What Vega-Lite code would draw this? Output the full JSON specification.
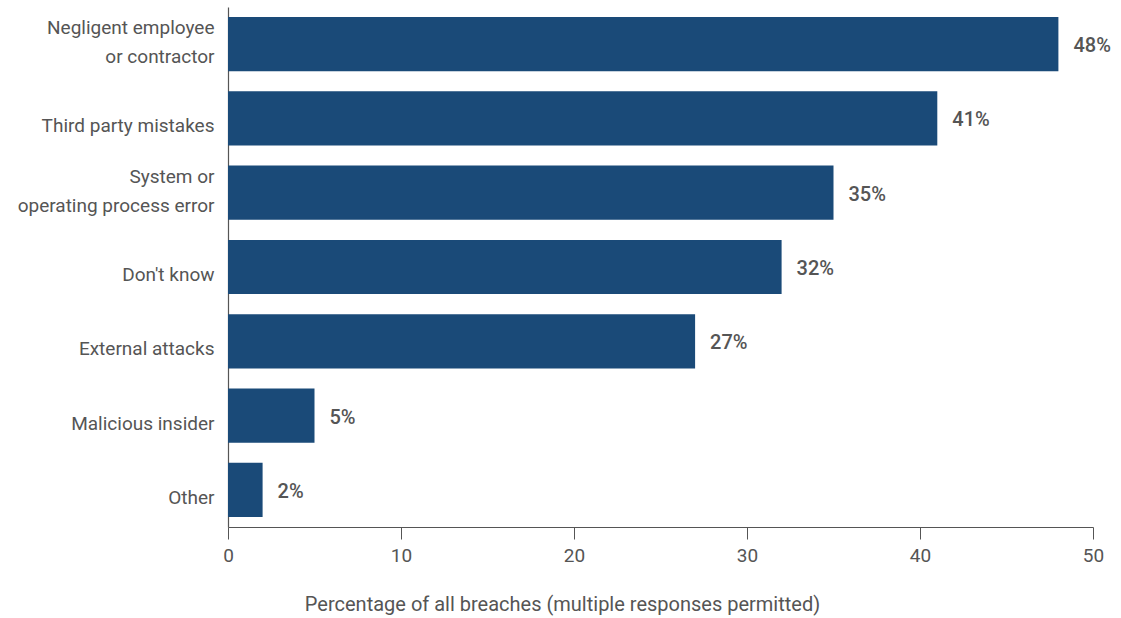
{
  "$schema": "https://vega.github.io/schema/vega-lite/v6.json",
  "width": 865,
  "height": 520,
  "autosize": {"type": "none"},
  "padding": {"left": 228, "top": 7, "right": 28, "bottom": 91},
  "background": "white",
  "config": {
    "view": {"stroke": null},
    "font": "Roboto",
    "axis": {"grid": false, "domainColor": "#555555", "tickColor": "#555555", "labelColor": "#555555", "titleColor": "#555555", "labelFont": "Roboto", "titleFont": "Roboto"}
  },
  "data": {
    "values": [
      {"cause": "Negligent employee\nor contractor", "pct": 48},
      {"cause": "Third party mistakes", "pct": 41},
      {"cause": "System or\noperating process error", "pct": 35},
      {"cause": "Don't know", "pct": 32},
      {"cause": "External attacks", "pct": 27},
      {"cause": "Malicious insider", "pct": 5},
      {"cause": "Other", "pct": 2}
    ]
  },
  "encoding": {
    "y": {
      "field": "cause", "type": "nominal", "sort": null,
      "scale": {"paddingInner": 0.27, "paddingOuter": 0.135},
      "axis": {"title": null, "ticks": false, "labelPadding": 14, "labelFontSize": 19, "labelLineHeight": 29, "labelExpr": "split(datum.label, '\\n')", "labelLimit": 300, "domainWidth": 1.2,
        "labelOffset": {"condition": {"test": "indexof(datum.value, '\\n') >= 0", "value": -16}, "value": 8}}
    },
    "x": {
      "field": "pct", "type": "quantitative",
      "scale": {"domain": [0, 50], "nice": false},
      "axis": {"values": [0, 10, 20, 30, 40, 50], "labelFlush": false, "tickSize": 12, "labelPadding": 7, "labelFontSize": 19, "title": "Percentage of all breaches (multiple responses permitted)", "titleFontSize": 20, "titleFontWeight": "normal", "titlePadding": 29, "titleX": 334, "titleAnchor": "middle", "domainWidth": 1.2}
    }
  },
  "layer": [
    {"mark": {"type": "bar", "color": "#1a4a78"}},
    {
      "mark": {"type": "text", "align": "left", "baseline": "middle", "dx": 15, "dy": 2, "fontSize": 20, "fontWeight": 500, "color": "#555555", "text": {"expr": "datum.pct + '%'"}}
    }
  ]
}
